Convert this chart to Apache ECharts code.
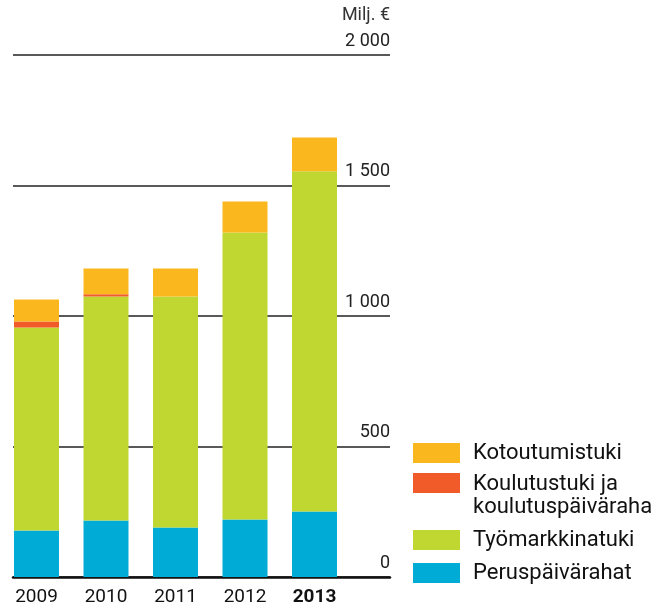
<!DOCTYPE html>
<html>
<head>
<meta charset="utf-8">
<script src="https://cdn.jsdelivr.net/npm/echarts@6/dist/echarts.min.js"></script>
<style>
  html, body { margin: 0; padding: 0; background: #fff; }
  #chart { width: 661px; height: 609px; }
</style>
</head>
<body>
<div id="chart"></div>
<script>
  // vuodet ja tukimuodot (milj. €)
  const years = ['2009', '2010', '2011', '2012', '2013']
  const peruspaivarahat = [178, 216, 190, 220, 251]
  const tyomarkkinatuki = [778, 859, 885, 1100, 1304]
  const koulutustuki = [23, 8, 0, 0, 0]
  const kotoutumistuki = [84, 99, 107, 119, 129]
  const yTicks = [0, 500, 1000, 1500, 2000]

  const font = "Roboto, 'Liberation Sans', sans-serif"

  // legend icons: box + empty space so text starts further right
  const iconOne = 'path://M0 0H47V20H0Z M55 0L55 0.01'
  const iconTwo = 'path://M0 0H47V20H0Z M55 46L55 45.99'

  const fmt = v => String(v).replace(/\B(?=(\d{3})+(?!\d))/g, ' ')

  const legendText = { fontFamily: font, fontSize: 22, color: '#111' }

  const chart = echarts.init(document.getElementById('chart'))
  const option = {
    backgroundColor: '#fff',
    animation: false,
    textStyle: { fontFamily: font },
    title: {
      text: 'Milj. €', right: 271, top: 6, padding: 0,
      textStyle: { fontFamily: font, fontSize: 18, fontWeight: 'normal', color: '#333' }
    },
    grid: [
      { left: 13, right: 271, top: 55, bottom: 32, outerBoundsMode: 'none' },
      { left: 1.75, width: 347.5, top: 55, bottom: 32, outerBoundsMode: 'none' }
    ],
    xAxis: [
      {
        gridIndex: 0, type: 'value', min: 0, max: 1,
        axisLine: { show: true, lineStyle: { color: '#111', width: 2.5 } },
        axisTick: { show: false }, axisLabel: { show: false }, splitLine: { show: false }
      },
      {
        gridIndex: 1, type: 'category', data: years,
        axisLine: { show: false }, axisTick: { show: false },
        axisLabel: {
          interval: 0, margin: 11, fontFamily: font, fontSize: 19, color: '#111',
          formatter: v => v === '2013' ? '{b|' + v + '}' : v,
          rich: { b: { fontFamily: font, fontSize: 19, fontWeight: 'bold', color: '#111' } }
        }
      }
    ],
    yAxis: [
      {
        gridIndex: 0, type: 'value', min: yTicks[0], max: yTicks[yTicks.length - 1], interval: 500,
        position: 'right',
        axisLine: { show: false }, axisTick: { show: false },
        splitLine: { lineStyle: { color: '#222', width: 1.5 } },
        axisLabel: {
          inside: true, margin: 0, verticalAlign: 'bottom', padding: [0, 0, 5, 0],
          fontFamily: font, fontSize: 18, color: '#222', formatter: fmt
        }
      },
      { gridIndex: 1, type: 'value', min: 0, max: 2000, interval: 500, show: false }
    ],
    legend: [
      {
        left: 413, top: 442, orient: 'vertical', padding: 0, selectedMode: false,
        itemWidth: 55, itemHeight: 20,
        data: [{ name: 'Kotoutumistuki', icon: iconOne }],
        textStyle: legendText
      },
      {
        left: 413, top: 473, orient: 'vertical', padding: 0, selectedMode: false,
        itemWidth: 55, itemHeight: 46,
        data: [{ name: 'Koulutustuki ja koulutuspäiväraha', icon: iconTwo }],
        formatter: () => 'Koulutustuki ja\nkoulutuspäiväraha',
        textStyle: Object.assign({ lineHeight: 23 }, legendText)
      },
      {
        left: 413, top: 529, orient: 'vertical', padding: 0, selectedMode: false,
        itemWidth: 55, itemHeight: 20, itemGap: 11,
        data: [{ name: 'Työmarkkinatuki', icon: iconOne }, { name: 'Peruspäivärahat', icon: iconOne }],
        textStyle: legendText
      }
    ],
    series: [
      { name: 'Peruspäivärahat', type: 'bar', stack: 'all', xAxisIndex: 1, yAxisIndex: 1, barWidth: 45,
        itemStyle: { color: '#00ACD6' }, data: peruspaivarahat },
      { name: 'Työmarkkinatuki', type: 'bar', stack: 'all', xAxisIndex: 1, yAxisIndex: 1, barWidth: 45,
        itemStyle: { color: '#BFD730' }, data: tyomarkkinatuki },
      { name: 'Koulutustuki ja koulutuspäiväraha', type: 'bar', stack: 'all', xAxisIndex: 1, yAxisIndex: 1, barWidth: 45,
        itemStyle: { color: '#F15A29' }, data: koulutustuki },
      { name: 'Kotoutumistuki', type: 'bar', stack: 'all', xAxisIndex: 1, yAxisIndex: 1, barWidth: 45,
        itemStyle: { color: '#FBB81E' }, data: kotoutumistuki }
    ]
  }
  chart.setOption(option)
  window.addEventListener('resize', chart.resize)
</script>
</body>
</html>
